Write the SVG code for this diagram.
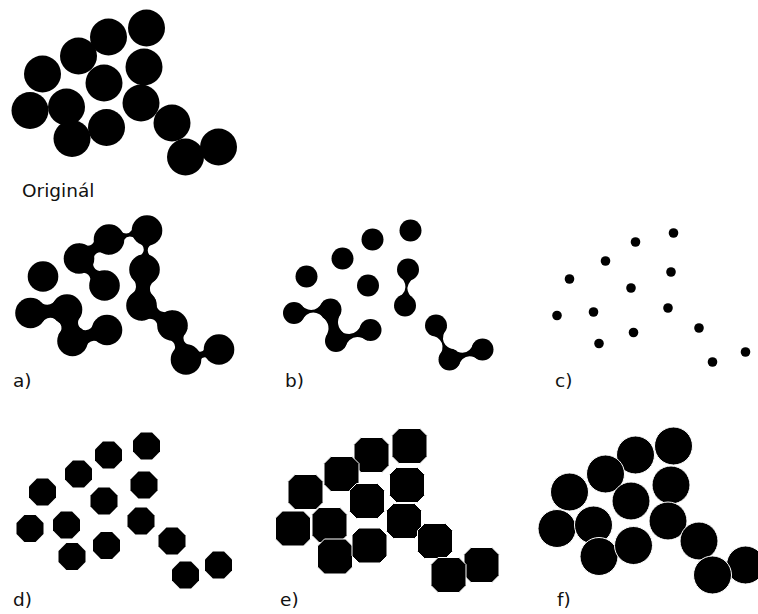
<svg xmlns="http://www.w3.org/2000/svg" width="758" height="614" viewBox="0 0 758 614">
<style>
.lbl{font-family:"DejaVu Sans","Liberation Sans",sans-serif;font-size:18.5px;fill:#111}
.blk{fill:#000}
.sep{fill:#000;stroke:#fff;stroke-width:1}
</style>
<defs>
<polygon id="oct" points="13.5,5.6 5.6,13.5 -5.6,13.5 -13.5,5.6 -13.5,-5.6 -5.6,-13.5 5.6,-13.5 13.5,-5.6"/>
<polygon id="sq" points="10.5,-17.5 17.5,-10.5 17.5,10.5 10.5,17.5 -10.5,17.5 -17.5,10.5 -17.5,-10.5 -10.5,-17.5"/>
</defs>
<rect width="758" height="614" fill="#fff"/>

<g id="original" class="blk">
<circle cx="146.5" cy="28" r="18.5"/><circle cx="108.5" cy="37" r="18.5"/><circle cx="78.5" cy="56" r="18.5"/><circle cx="42.5" cy="74" r="18.5"/><circle cx="144" cy="67" r="18.5"/><circle cx="104" cy="83" r="18.5"/><circle cx="30" cy="110.5" r="18.5"/><circle cx="66.5" cy="107" r="18.5"/><circle cx="141" cy="103" r="18.5"/><circle cx="72" cy="138.5" r="18.5"/><circle cx="106.5" cy="127.5" r="18.5"/><circle cx="172" cy="123" r="18.5"/><circle cx="218.5" cy="147" r="18.5"/><circle cx="185.5" cy="157" r="18.5"/>
</g>

<g id="panel-a" transform="translate(0.5,202.5)">
<g id="connectors-a" class="blk">
<path transform="translate(146.5,28) rotate(166.7)" d="M8,-13.04Q19.53,9.44 31.05,-13.04L31.05,13.04Q19.53,-9.44 8,13.04Z"/>
<path transform="translate(146.5,28) rotate(93.7)" d="M8,-13.04Q19.54,9.04 31.08,-13.04L31.08,13.04Q19.54,-9.04 8,13.04Z"/>
<path transform="translate(108.5,37) rotate(147.65)" d="M8,-13.04Q17.75,3.04 27.5,-13.04L27.5,13.04Q17.75,-3.04 8,13.04Z"/>
<path transform="translate(78.5,56) rotate(46.6)" d="M8,-13.04Q18.57,4.04 29.14,-13.04L29.14,13.04Q18.57,-4.04 8,13.04Z"/>
<path transform="translate(144,67) rotate(94.8)" d="M8,-13.04Q18.06,-0.96 28.12,-13.04L28.12,13.04Q18.06,0.96 8,13.04Z"/>
<path transform="translate(141,103) rotate(32.8)" d="M8,-13.04Q18.45,2.04 28.89,-13.04L28.89,13.04Q18.45,-2.04 8,13.04Z"/>
<path transform="translate(172,123) rotate(68.3)" d="M8,-13.04Q18.29,3.04 28.58,-13.04L28.58,13.04Q18.29,-3.04 8,13.04Z"/>
<path transform="translate(185.5,157) rotate(-16.9)" d="M8,-13.04Q17.24,7.04 26.48,-13.04L26.48,13.04Q17.24,-7.04 8,13.04Z"/>
<path transform="translate(30,110.5) rotate(-5.5)" d="M8,-13.04Q18.34,0.04 28.67,-13.04L28.67,13.04Q18.34,-0.04 8,13.04Z"/>
<path transform="translate(66.5,107) rotate(80.1)" d="M8,-13.04Q15.99,-3.96 23.98,-13.04L23.98,13.04Q15.99,3.96 8,13.04Z"/>
<path transform="translate(72,138.5) rotate(-17.7)" d="M8,-13.04Q18.11,1.04 28.21,-13.04L28.21,13.04Q18.11,-1.04 8,13.04Z"/>
</g>
<g class="blk">
<circle cx="146.5" cy="28" r="15.3"/><circle cx="108.5" cy="37" r="15.3"/><circle cx="78.5" cy="56" r="15.3"/><circle cx="42.5" cy="74" r="15.3"/><circle cx="144" cy="67" r="15.3"/><circle cx="104" cy="83" r="15.3"/><circle cx="30" cy="110.5" r="15.3"/><circle cx="66.5" cy="107" r="15.3"/><circle cx="141" cy="103" r="15.3"/><circle cx="72" cy="138.5" r="15.3"/><circle cx="106.5" cy="127.5" r="15.3"/><circle cx="172" cy="123" r="15.3"/><circle cx="218.5" cy="147" r="15.3"/><circle cx="185.5" cy="157" r="15.3"/>
</g>
</g>

<g id="panel-b" transform="translate(264,202.5)">
<g id="connectors-b" class="blk">
<path transform="translate(30,110.5) rotate(-5.5)" d="M5.5,-9.53Q18.34,6.93 31.17,-9.53L31.17,9.53Q18.34,-6.93 5.5,9.53Z"/>
<path transform="translate(66.5,107) rotate(80.1)" d="M5.5,-9.53Q15.99,-0.47 26.48,-9.53L26.48,9.53Q15.99,0.47 5.5,9.53Z"/>
<path transform="translate(72,138.5) rotate(-17.7)" d="M5.5,-9.53Q18.11,5.53 30.71,-9.53L30.71,9.53Q18.11,-5.53 5.5,9.53Z"/>
<path transform="translate(144,67) rotate(94.8)" d="M5.5,-9.53Q18.06,7.53 30.62,-9.53L30.62,9.53Q18.06,-7.53 5.5,9.53Z"/>
<path transform="translate(172,123) rotate(68.3)" d="M5.5,-9.53Q18.29,7.53 31.08,-9.53L31.08,9.53Q18.29,-7.53 5.5,9.53Z"/>
<path transform="translate(185.5,157) rotate(-16.9)" d="M5.5,-9.53Q17.24,5.13 28.98,-9.53L28.98,9.53Q17.24,-5.13 5.5,9.53Z"/>
</g>
<g class="blk">
<circle cx="146.5" cy="28" r="11"/><circle cx="108.5" cy="37" r="11"/><circle cx="78.5" cy="56" r="11"/><circle cx="42.5" cy="74" r="11"/><circle cx="144" cy="67" r="11"/><circle cx="104" cy="83" r="11"/><circle cx="30" cy="110.5" r="11"/><circle cx="66.5" cy="107" r="11"/><circle cx="141" cy="103" r="11"/><circle cx="72" cy="138.5" r="11"/><circle cx="106.5" cy="127.5" r="11"/><circle cx="172" cy="123" r="11"/><circle cx="218.5" cy="147" r="11"/><circle cx="185.5" cy="157" r="11"/>
</g>
</g>

<g id="panel-c" class="blk" transform="translate(527,205)">
<circle cx="146.5" cy="28" r="4.8"/><circle cx="108.5" cy="37" r="4.8"/><circle cx="78.5" cy="56" r="4.8"/><circle cx="42.5" cy="74" r="4.8"/><circle cx="144" cy="67" r="4.8"/><circle cx="104" cy="83" r="4.8"/><circle cx="30" cy="110.5" r="4.8"/><circle cx="66.5" cy="107" r="4.8"/><circle cx="141" cy="103" r="4.8"/><circle cx="72" cy="138.5" r="4.8"/><circle cx="106.5" cy="127.5" r="4.8"/><circle cx="172" cy="123" r="4.8"/><circle cx="218.5" cy="147" r="4.8"/><circle cx="185.5" cy="157" r="4.8"/>
</g>

<g id="panel-d" class="blk" transform="translate(0,418)">
<use href="#oct" x="146.5" y="28"/><use href="#oct" x="108.5" y="37"/><use href="#oct" x="78.5" y="56"/><use href="#oct" x="42.5" y="74"/><use href="#oct" x="144" y="67"/><use href="#oct" x="104" y="83"/><use href="#oct" x="30" y="110.5"/><use href="#oct" x="66.5" y="107"/><use href="#oct" x="141" y="103"/><use href="#oct" x="72" y="138.5"/><use href="#oct" x="106.5" y="127.5"/><use href="#oct" x="172" y="123"/><use href="#oct" x="218.5" y="147"/><use href="#oct" x="185.5" y="157"/>
</g>

<g id="panel-e" class="sep" transform="translate(263,418)">
<use href="#sq" x="146.5" y="28"/><use href="#sq" x="108.5" y="37"/><use href="#sq" x="78.5" y="56"/><use href="#sq" x="42.5" y="74"/><use href="#sq" x="144" y="67"/><use href="#sq" x="104" y="83"/><use href="#sq" x="30" y="110.5"/><use href="#sq" x="66.5" y="107"/><use href="#sq" x="141" y="103"/><use href="#sq" x="72" y="138.5"/><use href="#sq" x="106.5" y="127.5"/><use href="#sq" x="172" y="123"/><use href="#sq" x="218.5" y="147"/><use href="#sq" x="185.5" y="157"/>
</g>

<g id="panel-f" class="sep" transform="translate(527,418)">
<circle cx="146.5" cy="28" r="19"/><circle cx="108.5" cy="37" r="19"/><circle cx="78.5" cy="56" r="19"/><circle cx="42.5" cy="74" r="19"/><circle cx="144" cy="67" r="19"/><circle cx="104" cy="83" r="19"/><circle cx="30" cy="110.5" r="19"/><circle cx="66.5" cy="107" r="19"/><circle cx="141" cy="103" r="19"/><circle cx="72" cy="138.5" r="19"/><circle cx="106.5" cy="127.5" r="19"/><circle cx="172" cy="123" r="19"/><circle cx="218.5" cy="147" r="19"/><circle cx="185.5" cy="157" r="19"/>
</g>

<g id="labels">
<text class="lbl" x="22" y="197">Originál</text>
<text class="lbl" x="13" y="387">a)</text>
<text class="lbl" x="285" y="387">b)</text>
<text class="lbl" x="555" y="387">c)</text>
<text class="lbl" x="13" y="606">d)</text>
<text class="lbl" x="280" y="606">e)</text>
<text class="lbl" x="557" y="606">f)</text>
</g>
</svg>
